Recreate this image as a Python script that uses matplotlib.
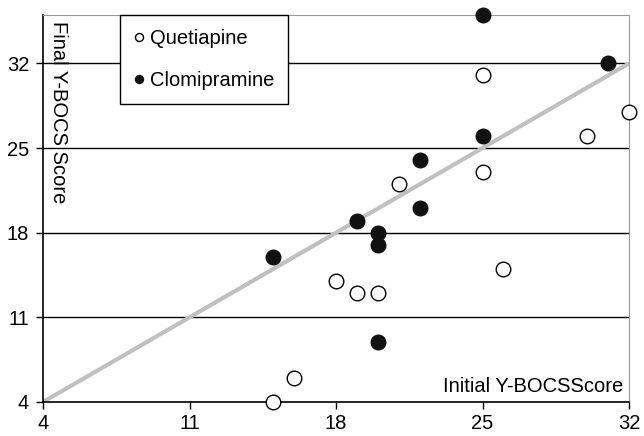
import matplotlib.pyplot as plt

plt.rcParams['font.family'] = ['Liberation Sans', 'DejaVu Sans']

# Initial vs final Y-BOCS scores
quet_initial = [15, 16, 18, 19, 20, 21, 25, 25, 26, 30, 32]
quet_final = [4, 6, 14, 13, 13, 22, 23, 31, 15, 26, 28]
clomi_initial = [15, 19, 20, 20, 20, 22, 22, 25, 25, 31]
clomi_final = [16, 19, 18, 17, 9, 24, 20, 26, 36, 32]
ticks = [4, 11, 18, 25, 32]

fig = plt.figure(figsize=(6.44, 4.36), dpi=100)
ax = fig.add_axes([0.0668, 0.078, 0.91, 0.8876])

# identity line
ax.plot([4, 32], [4, 32], color='#c0c0c0', lw=3, zorder=2, solid_capstyle='butt')

for yv in ticks[1:]:
    ax.axhline(yv, color='black', lw=1, zorder=1)

ax.plot(quet_initial, quet_final, 'o', ms=10.5, mfc='white', mec='black', mew=1,
        label='Quetiapine', zorder=3, clip_on=False)
ax.plot(clomi_initial, clomi_final, 'o', ms=10.5, mfc='#111111', mec='#111111', mew=1,
        label='Clomipramine', zorder=3, clip_on=False)

ax.set_xlim(4, 32)
ax.set_ylim(4, 36)
ax.set_xticks(ticks)
ax.set_yticks(ticks)
ax.tick_params(direction='out', length=5, width=1, labelsize=14.5, color='black', pad=5)
ax.tick_params(axis='x', pad=4)

for side in ['top', 'right']:
    ax.spines[side].set_color('#999999')
for side in ['left', 'bottom']:
    ax.spines[side].set_color('black')
    ax.spines[side].set_linewidth(1.2)

leg = ax.legend(loc='upper left', bbox_to_anchor=(0.131, 1.0), borderaxespad=0,
                fontsize=14.5, markerscale=0.55, handletextpad=0.3, handlelength=0.5,
                fancybox=False, framealpha=1, edgecolor='black', borderpad=0.7,
                labelspacing=1.15)
leg.get_frame().set_linewidth(1)

ax.text(0.01, 0.985, 'Final Y-BOCS Score', transform=ax.transAxes, rotation=270,
        ha='left', va='top', fontsize=14.5)
ax.text(0.99, 0.015, 'Initial Y-BOCSScore', transform=ax.transAxes,
        ha='right', va='bottom', fontsize=14.5)

fig.savefig('out.png', dpi=100)
